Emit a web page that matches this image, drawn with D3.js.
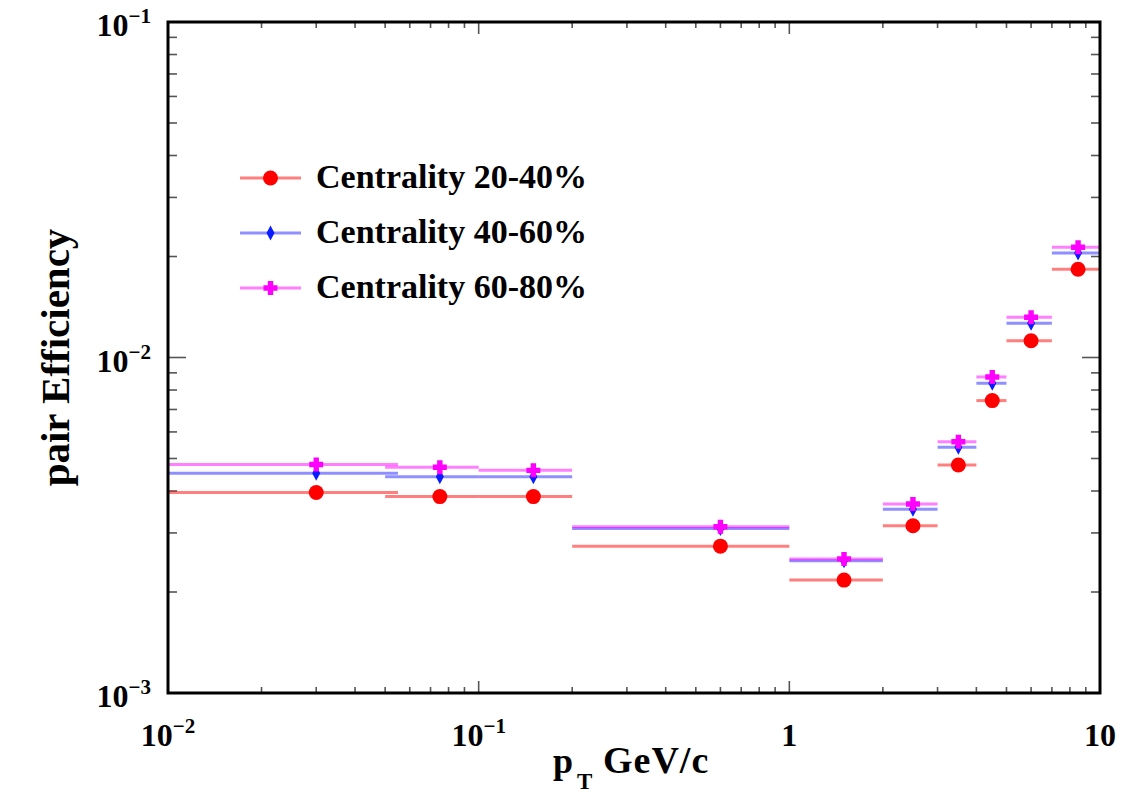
<!DOCTYPE html>
<html>
<head>
<meta charset="utf-8">
<script src="https://cdn.jsdelivr.net/npm/d3@7"></script>
<style>
  body { margin: 0; background: #fff; }
  svg { display: block; }
  text { font-family: "Liberation Serif", "Times New Roman", serif; font-weight: bold; fill: #000; }
</style>
</head>
<body>
<svg id="chart" width="1122" height="794"></svg>
<script>
// pT bins (GeV/c): centres and bin edges
var binCenters = [0.03, 0.075, 0.15, 0.6, 1.5, 2.5, 3.5, 4.5, 6, 8.5];
var binLow     = [0.005, 0.05, 0.1, 0.2, 1, 2, 3, 4, 5, 7];
var binHigh    = [0.055, 0.1, 0.2, 1, 2, 3, 4, 5, 7, 10];

// pair efficiency per centrality class
var eff20_40 = [0.00396, 0.00385, 0.00385, 0.00274, 0.00217, 0.00315, 0.00478, 0.00744, 0.01122, 0.01832];
var eff40_60 = [0.00452, 0.00441, 0.00441, 0.00309, 0.00248, 0.00353, 0.00540, 0.00838, 0.01265, 0.02049];
var eff60_80 = [0.00480, 0.00471, 0.00461, 0.00313, 0.00251, 0.00366, 0.00561, 0.00875, 0.01318, 0.02131];

var seriesNames = ["Centrality 20-40%", "Centrality 40-60%", "Centrality 60-80%"];

var xTickLabels = [[0.01, "10", "\u22122"], [0.1, "10", "\u22121"], [1, "1", ""], [10, "10", ""]];
var yTickLabels = [[0.001, "10", "\u22123"], [0.01, "10", "\u22122"], [0.1, "10", "\u22121"]];

var svg = d3.select("#chart");

var plotLeft = 168, plotRight = 1100, plotTop = 22, plotBottom = 693;

var x = d3.scaleLog().domain([0.01, 10]).range([plotLeft, plotRight]);
var y = d3.scaleLog().domain([0.001, 0.1]).range([plotBottom, plotTop]);

var series = [
    { name: seriesNames[0], values: eff20_40, color: "#ff0000", line: "#ff0000", marker: "circle" },
    { name: seriesNames[1], values: eff40_60, color: "#0a1cff", line: "#2020ff", marker: "diamond" },
    { name: seriesNames[2], values: eff60_80, color: "#ff00ff", line: "#ff00ff", marker: "cross" }
];

function isMajor(v) {
    var l = Math.log10(v);
    return Math.abs(l - Math.round(l)) < 1e-9;
}

// clip area for the horizontal bin bars
svg.append("defs").append("clipPath")
    .attr("id", "plot-clip")
    .append("rect")
    .attr("x", plotLeft).attr("y", plotTop)
    .attr("width", plotRight - plotLeft).attr("height", plotBottom - plotTop);

// ticks on all four sides
var tickG = svg.append("g").attr("stroke", "#555").attr("stroke-width", 1.6);

x.ticks().forEach(function(t) {
    var len = isMajor(t) ? 12 : 6;
    tickG.append("line").attr("x1", x(t)).attr("x2", x(t)).attr("y1", plotBottom).attr("y2", plotBottom - len);
    tickG.append("line").attr("x1", x(t)).attr("x2", x(t)).attr("y1", plotTop).attr("y2", plotTop + len);
});
y.ticks().forEach(function(t) {
    var len = isMajor(t) ? 18 : 9;
    tickG.append("line").attr("y1", y(t)).attr("y2", y(t)).attr("x1", plotLeft).attr("x2", plotLeft + len);
    tickG.append("line").attr("y1", y(t)).attr("y2", y(t)).attr("x1", plotRight).attr("x2", plotRight - len);
});

// data: horizontal bin bars + markers
var dataG = svg.append("g");

function drawMarker(g, type, cx, cy, color) {
    if (type === "circle") {
        g.append("circle").attr("cx", cx).attr("cy", cy).attr("r", 7.5).attr("fill", color);
    } else if (type === "diamond") {
        g.append("path")
            .attr("d", "M" + cx + "," + (cy - 7.5) + " L" + (cx + 4) + "," + cy +
                " L" + cx + "," + (cy + 7.5) + " L" + (cx - 4) + "," + cy + "Z")
            .attr("fill", color);
    } else {
        var a = 7, w = 2.7;
        g.append("path")
            .attr("d", "M" + (cx - w) + "," + (cy - a) + " H" + (cx + w) + " V" + (cy - w) +
                " H" + (cx + a) + " V" + (cy + w) + " H" + (cx + w) + " V" + (cy + a) +
                " H" + (cx - w) + " V" + (cy + w) + " H" + (cx - a) + " V" + (cy - w) +
                " H" + (cx - w) + "Z")
            .attr("fill", color);
    }
}

series.forEach(function(s) {
    var g = dataG.append("g");
    g.append("g")
        .attr("clip-path", "url(#plot-clip)")
        .selectAll("line")
        .data(s.values)
        .enter()
        .append("line")
        .attr("x1", function(d, i) { return x(binLow[i]); })
        .attr("x2", function(d, i) { return x(binHigh[i]); })
        .attr("y1", function(d) { return y(d); })
        .attr("y2", function(d) { return y(d); })
        .attr("stroke", s.line)
        .attr("stroke-opacity", 0.5)
        .attr("stroke-width", 3);
    s.values.forEach(function(d, i) {
        drawMarker(g, s.marker, x(binCenters[i]), y(d), s.color);
    });
});

// frame
svg.append("rect")
    .attr("x", plotLeft).attr("y", plotTop)
    .attr("width", plotRight - plotLeft).attr("height", plotBottom - plotTop)
    .attr("fill", "none").attr("stroke", "#000").attr("stroke-width", 3);

// tick labels
xTickLabels.forEach(function(t) {
    var txt = svg.append("text")
        .attr("x", x(t[0]))
        .attr("y", 746)
        .attr("text-anchor", "middle")
        .style("font-size", "32px")
        .text(t[1]);
    if (t[2] !== "") {
        txt.append("tspan").attr("dy", -13).style("font-size", "21px").text(t[2]);
    }
});
yTickLabels.forEach(function(t) {
    var txt = svg.append("text")
        .attr("x", 151)
        .attr("y", y(t[0]) + 14)
        .attr("text-anchor", "end")
        .style("font-size", "32px")
        .text(t[1]);
    txt.append("tspan").attr("dy", -13).style("font-size", "21px").text(t[2]);
});

// axis titles
svg.append("text")
    .attr("x", 553).attr("y", 773)
    .style("font-size", "36px")
    .text("p");
svg.append("text")
    .attr("x", 577).attr("y", 789)
    .style("font-size", "23px")
    .text("T");
svg.append("text")
    .attr("x", 603).attr("y", 773)
    .style("font-size", "38px")
    .style("letter-spacing", "1px")
    .text("GeV/c");

svg.append("text")
    .attr("transform", "translate(69," + y(0.01) + ") rotate(-90)")
    .attr("text-anchor", "middle")
    .style("font-size", "41px")
    .text("pair Efficiency");

// legend
var legendRows = [178, 233, 288];
series.forEach(function(s, i) {
    var ly = legendRows[i];
    svg.append("line")
        .attr("x1", 240).attr("x2", 301)
        .attr("y1", ly).attr("y2", ly)
        .attr("stroke", s.line).attr("stroke-opacity", 0.5).attr("stroke-width", 3);
    drawMarker(svg, s.marker, 270.5, ly, s.color);
    svg.append("text")
        .attr("x", 316)
        .attr("y", ly + 10)
        .style("font-size", "34px")
        .text(s.name);
});
</script>
</body>
</html>
